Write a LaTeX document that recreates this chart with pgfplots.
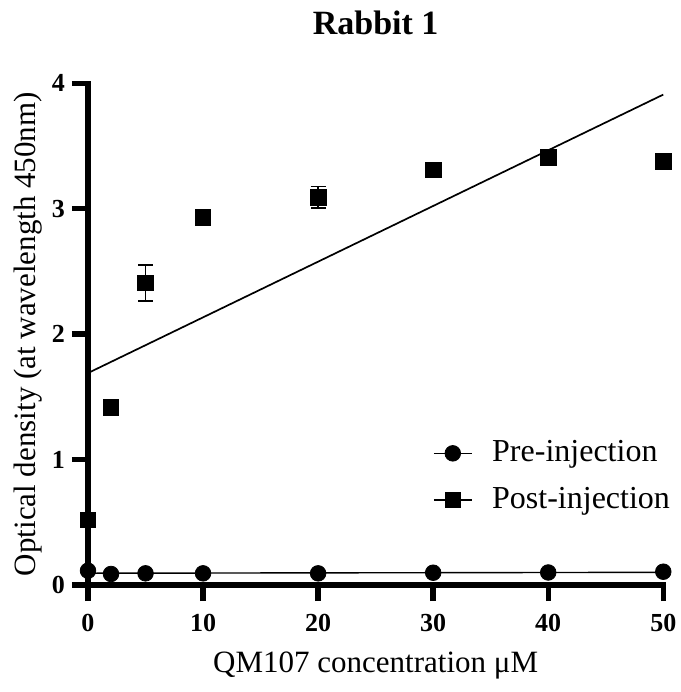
\documentclass[border=0pt]{standalone}
\usepackage{fontspec}
\setmainfont{Liberation Serif}
\usepackage{pgfplots}
\pgfplotsset{compat=1.18}
\begin{document}
\begin{tikzpicture}
\begin{axis}[
  at={(0,0)}, anchor=south west,
  scale only axis, width=287.65pt, height=250.85pt,
  xmin=0, xmax=50, ymin=0, ymax=4,
  axis x line=bottom, axis y line=left,
  axis line style={line width=2.7pt, -, line cap=rect},
  every tick/.style={line width=2.7pt, black},
  tick align=outside, major tick length=8pt,
  xtick={0,10,20,30,40,50}, ytick={0,1,2,3,4},
  minor tick num=0,
  clip=false,
  /pgf/number format/assume math mode=true,
  ticklabel style={font=\bfseries\fontsize{13}{15}\selectfont},
  xticklabel style={yshift=-3pt},
  title={Rabbit 1},
  title style={font=\bfseries\fontsize{17}{20}\selectfont, at={(axis description cs:0.5,1.0965)}, anchor=base, yshift=-6pt},
  xlabel={QM107 concentration μM},
  xlabel style={font=\fontsize{15.5}{18}\selectfont, at={(axis description cs:0.5,-0.1746)}, anchor=base},
  ylabel={Optical density (at wavelength 450nm)},
  ylabel style={font=\fontsize{15.5}{18}\selectfont, at={(axis description cs:-0.0921,0.5)}, anchor=base},
  legend style={draw=none, fill=none, at={(axis description cs:0.599,0.2159)}, anchor=west,
    font=\fontsize{16}{19}\selectfont, row sep=8.35pt, inner sep=0pt,
    nodes={inner sep=0pt, text height=11.5pt, text depth=3.5pt}},
  legend cell align=left,
]
% fitted lines
\addplot[black, line width=0.85pt, forget plot] coordinates {(0,1.69) (50,3.91)};
\addplot[black, line width=0.7pt, forget plot] coordinates {(0,0.094) (50,0.101)};
% pre-injection
\addplot[black, only marks, mark=*, mark size=3.9pt,
  legend image code/.code={\draw[line width=0.8pt] (0pt,0pt) -- (19pt,0pt); \draw plot coordinates {(9.5pt,0pt)}; \path (29pt,0pt);}]
  coordinates {(0,0.114) (2,0.088) (5,0.093) (10,0.093) (20,0.093) (30,0.098) (40,0.100) (50,0.106)};
\addlegendentry{Pre-injection}
% post-injection
\addplot[black, only marks, mark=square*, mark size=3.9pt,
  error bars/.cd, y dir=both, y explicit,
  error bar style={line width=0.8pt, black},
  error mark options={rotate=90, mark size=3.7pt, line width=0.8pt, black},
  /pgfplots/legend image code/.code={\draw[line width=0.8pt] (0pt,0pt) -- (19pt,0pt); \draw plot coordinates {(9.5pt,0pt)}; \path (29pt,0pt);}]
  coordinates {(0,0.518) +- (0,0) (2,1.417) +- (0,0) (5,2.408) +- (0,0.142) (10,2.929) +- (0,0)
    (20,3.092) +- (0,0.084) (30,3.309) +- (0,0) (40,3.410) +- (0,0) (50,3.376) +- (0,0)};
\addlegendentry{Post-injection}
\end{axis}
\pgfresetboundingbox
\path[use as bounding box] (-44pt,-53.5pt) rectangle (296.5pt,292.5pt);
\end{tikzpicture}
\end{document}
